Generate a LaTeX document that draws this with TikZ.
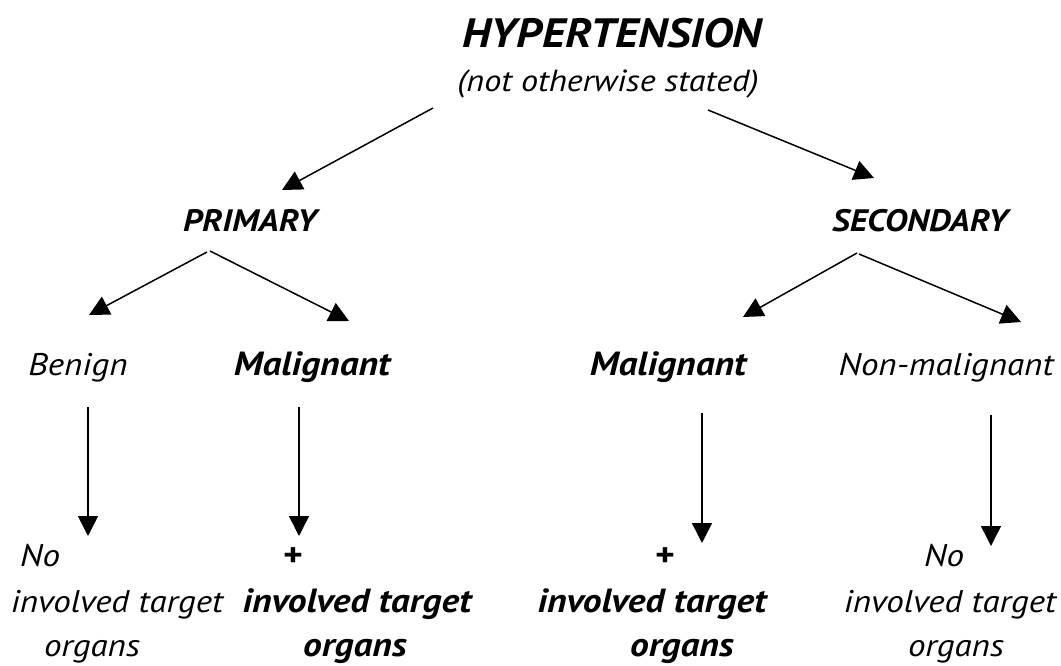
\documentclass[tikz,border=0pt]{standalone}
\usepackage{fontspec}
\setmainfont{PT Sans}[FakeStretch=1.12]
\usetikzlibrary{arrows.meta}
\begin{document}
\begin{tikzpicture}[x=1pt,y=-1pt,
  lbl/.style={inner sep=0pt,anchor=base,font=\fontsize{31.3}{36}\selectfont\itshape},
  blbl/.style={inner sep=0pt,anchor=base,font=\fontsize{33.5}{38}\selectfont\bfseries\itshape},
  head/.style={inner sep=0pt,anchor=base,font=\fontsize{31}{36}\selectfont\bfseries\itshape},
  arr/.style={line width=1.5pt,-{Triangle[length=20pt,width=20pt]}}]
\useasboundingbox (0,0) rectangle (1061,666);
% texts
\node[inner sep=0pt,anchor=base,font=\fontsize{41}{46}\selectfont\bfseries\itshape] (hyp) at (612,48) {HYPERTENSION};
\node[inner sep=0pt,anchor=base,font=\fontsize{30.5}{35}\selectfont\itshape] (nos) at (608,92) {(not otherwise stated)};
\node[head] (prim) at (250,232) {PRIMARY};
\node[head] (sec) at (920,232) {SECONDARY};
\node[lbl] (ben) at (78,375) {Benign};
\node[blbl] (mall) at (312,375) {Malignant};
\node[blbl] (malr) at (668,375) {Malignant};
\node[lbl] (nonm) at (946,375) {Non-malignant};
% bottom rows
\node[lbl] (no1) at (40,566) {No};
\node[lbl] (inv1) at (117,612) {involved target};
\node[lbl] (org1) at (92,656) {organs};
\node[blbl] (pl1) at (292,566) {+};
\node[blbl] (inv2) at (357,612) {involved target};
\node[blbl] (org2) at (355,656) {organs};
\node[blbl] (pl2) at (664,566) {+};
\node[blbl] (inv3) at (652,612) {involved target};
\node[blbl] (org3) at (682,656) {organs};
\node[lbl] (no2) at (944,566) {No};
\node[lbl] (inv4) at (950,612) {involved target};
\node[lbl] (org4) at (956,656) {organs};
% connector ends
\coordinate (h1) at (433,108); \coordinate (p0) at (282,190);
\coordinate (h2) at (708,110); \coordinate (s0) at (874,178);
\coordinate (p1) at (207,252); \coordinate (b0) at (89,315);
\coordinate (p2) at (210,251); \coordinate (m0) at (349,321);
\coordinate (s1) at (857,253); \coordinate (r0) at (743,317);
\coordinate (s2) at (859,254); \coordinate (n0) at (1021,322);
\coordinate (b1) at (88,407); \coordinate (b2) at (88,536);
\coordinate (m1) at (299,407); \coordinate (m2) at (299,536);
\coordinate (r1) at (702,413); \coordinate (r2) at (702,543);
\coordinate (n1) at (991,415); \coordinate (n2) at (991,546);
\draw[arr] (h1) -- (p0);
\draw[arr] (h2) -- (s0);
\draw[arr] (p1) -- (b0);
\draw[arr] (p2) -- (m0);
\draw[arr] (s1) -- (r0);
\draw[arr] (s2) -- (n0);
\draw[arr] (b1) -- (b2);
\draw[arr] (m1) -- (m2);
\draw[arr] (r1) -- (r2);
\draw[arr] (n1) -- (n2);
\end{tikzpicture}
\end{document}
